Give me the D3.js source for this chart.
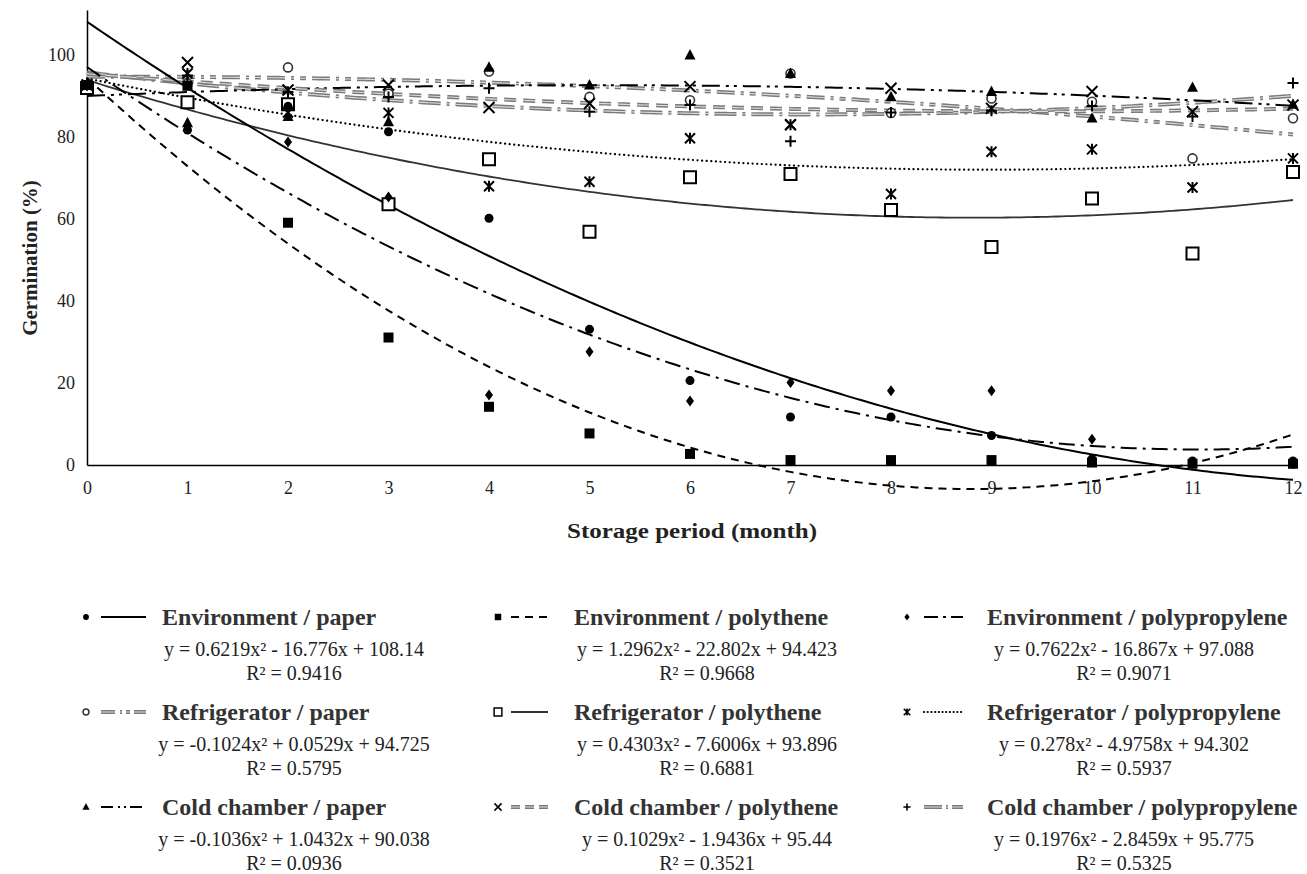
<!DOCTYPE html>
<html><head><meta charset="utf-8">
<script src="https://cdn.jsdelivr.net/npm/d3@7"></script>
<style>body{margin:0;background:#fff} svg{display:block}</style>
</head><body><svg id="c" width="1307" height="874"></svg>
<script>
// ---------- data ----------
const months = [0,1,2,3,4,5,6,7,8,9,10,11,12];
const xTickLabels = [0,1,2,3,4,5,6,7,8,9,10,11,12];
const yTickLabels = [0,20,40,60,80,100];

const envPaper        = [92.7, 81.7, 87.5, 81.3, 60.2, 33.1, 20.6, 11.7, 11.7, 7.2, 1.5, 1.0, 1.0];
const envPolythene    = [92.7, 92.5, 59.1, 31.1, 14.2, 7.7, 2.7, 1.2, 1.2, 1.2, 0.6, 0.3, 0.3];
const envPolyprop     = [92.7, 83.0, 78.8, 65.4, 17.1, 27.6, 15.6, 20.1, 18.1, 18.1, 6.3, 0.3, 0.3];
const refPaper        = [92.7, 93.0, 97.0, 90.6, 96.0, 89.8, 89.0, 95.5, 85.9, 89.4, 88.6, 74.8, 84.6];
const refPolythene    = [92.0, 88.5, 88.0, 63.6, 74.6, 56.9, 70.2, 71.0, 62.2, 53.2, 65.0, 51.6, 71.5];
const refPolyprop     = [92.7, 95.5, 86.0, 85.9, 68.0, 69.1, 79.7, 83.0, 66.1, 76.4, 77.0, 67.7, 74.8];
const coldPaper       = [92.7, 83.5, 85.0, 83.7, 97.0, 92.7, 100.0, 95.5, 89.8, 91.1, 84.6, 92.1, 88.0];
const coldPolythene   = [92.7, 98.2, 91.5, 92.7, 87.2, 88.2, 92.3, 83.0, 91.9, 87.0, 91.1, 86.2, 87.8];
const coldPolyprop    = [92.7, 95.0, 91.0, 89.8, 91.9, 86.2, 87.8, 79.0, 86.0, 86.4, 87.6, 85.0, 93.2];

const seriesNames = ["Environment / paper","Environment / polythene","Environment / polypropylene",
  "Refrigerator / paper","Refrigerator / polythene","Refrigerator / polypropylene",
  "Cold chamber / paper","Cold chamber / polythene","Cold chamber / polypropylene"];
const seriesValues = [envPaper, envPolythene, envPolyprop, refPaper, refPolythene, refPolyprop, coldPaper, coldPolythene, coldPolyprop];

// trendline coefficients (y = a x^2 + b x + c), as printed
const coefA = [0.6219, 1.2962, 0.7622, -0.1024, 0.4303, 0.278, -0.1036, 0.1029, 0.1976];
const coefB = [-16.776, -22.802, -16.867, 0.0529, -7.6006, -4.9758, 1.0432, -1.9436, -2.8459];
const coefC = [108.14, 94.423, 97.088, 94.725, 93.896, 94.302, 90.038, 95.44, 95.775];
const eqTexts = ["y = 0.6219x² - 16.776x + 108.14","y = 1.2962x² - 22.802x + 94.423","y = 0.7622x² - 16.867x + 97.088",
  "y = -0.1024x² + 0.0529x + 94.725","y = 0.4303x² - 7.6006x + 93.896","y = 0.278x² - 4.9758x + 94.302",
  "y = -0.1036x² + 1.0432x + 90.038","y = 0.1029x² - 1.9436x + 95.44","y = 0.1976x² - 2.8459x + 95.775"];
const r2Texts = ["R² = 0.9416","R² = 0.9668","R² = 0.9071","R² = 0.5795","R² = 0.6881","R² = 0.5937","R² = 0.0936","R² = 0.3521","R² = 0.5325"];

// ---------- styles ----------
const markerTypes = ["dot","square","diamond","circle","osquare","asterisk","triangle","times","plus"];
const lineStyles = [
  {color:"#000", w:2,   dash:null, dbl:false},
  {color:"#000", w:2,   dash:"8,6", dbl:false},
  {color:"#000", w:2,   dash:"16,6,3,6", dbl:false},
  {color:"#7a7a7a", w:4, dash:"18,6,3,6,6,6", dbl:true},
  {color:"#333", w:1.8, dash:null, dbl:false},
  {color:"#000", w:2.2, dash:"0.1,4.5", dbl:false, round:true},
  {color:"#000", w:2,   dash:"18,6,3,5,3,6", dbl:false},
  {color:"#7a7a7a", w:4, dash:"12,7", dbl:true},
  {color:"#7a7a7a", w:4, dash:"22,6,3,6", dbl:true}
];

const FONT = "'Liberation Serif','Times New Roman',serif";
const svg = d3.select("#c");
const x = d3.scaleLinear().domain([0,12]).range([87,1293]);
const y = d3.scaleLinear().domain([0,111]).range([465,10]);

// axes
const gx = svg.append("g").attr("transform",`translate(0,${y(0)})`)
  .call(d3.axisBottom(x).tickValues(xTickLabels).tickSize(0).tickPadding(16).tickSizeOuter(0));
const gy = svg.append("g").attr("transform",`translate(${x(0)},0)`)
  .call(d3.axisLeft(y).tickValues(yTickLabels).tickSize(0).tickPadding(12).tickSizeOuter(0));
[gx,gy].forEach(g=>{
  g.select(".domain").attr("stroke","#000").attr("stroke-width",1.5);
  g.selectAll("text").attr("font-family",FONT).attr("font-size",18).attr("fill","#222");
});

svg.append("text").attr("transform",`translate(37,258) rotate(-90)`).attr("text-anchor","middle")
  .attr("font-family",FONT).attr("font-weight","bold").attr("font-size",21).attr("fill","#222")
  .text("Germination (%)");
svg.append("text").attr("x",692).attr("y",538).attr("text-anchor","middle")
  .attr("font-family",FONT).attr("font-weight","bold").attr("font-size",22).attr("fill","#222")
  .attr("textLength",250).attr("lengthAdjust","spacingAndGlyphs")
  .text("Storage period (month)");

// marker path generator
function markerPath(type, s){
  const p = d3.path();
  switch(type){
    case "dot": p.arc(0,0,s*0.5,0,2*Math.PI); break;
    case "circle": p.arc(0,0,s*0.5,0,2*Math.PI); break;
    case "square": p.rect(-s/2,-s/2,s,s); break;
    case "osquare": p.rect(-s/2,-s/2,s,s); break;
    case "diamond": p.moveTo(0,-s*0.55); p.lineTo(s*0.4,0); p.lineTo(0,s*0.55); p.lineTo(-s*0.4,0); p.closePath(); break;
    case "triangle": p.moveTo(0,-s*0.55); p.lineTo(s*0.5,s*0.4); p.lineTo(-s*0.5,s*0.4); p.closePath(); break;
    case "times": p.moveTo(-s/2,-s/2); p.lineTo(s/2,s/2); p.moveTo(s/2,-s/2); p.lineTo(-s/2,s/2); break;
    case "plus": p.moveTo(-s/2,0); p.lineTo(s/2,0); p.moveTo(0,-s/2); p.lineTo(0,s/2); break;
    case "asterisk": p.moveTo(-s/2,-s/2); p.lineTo(s/2,s/2); p.moveTo(s/2,-s/2); p.lineTo(-s/2,s/2); p.moveTo(0,-s*0.55); p.lineTo(0,s*0.55); break;
  }
  return p.toString();
}
function styleMarker(sel, type){
  if(type==="dot"||type==="square"||type==="diamond"||type==="triangle"){
    sel.attr("fill","#000").attr("stroke","none");
  } else if(type==="circle"){
    sel.attr("fill","#fff").attr("stroke","#333").attr("stroke-width",1.6);
  } else if(type==="osquare"){
    sel.attr("fill","#fff").attr("stroke","#000").attr("stroke-width",2);
  } else {
    sel.attr("fill","none").attr("stroke","#000").attr("stroke-width",2);
  }
}
const markerSize = {dot:9, square:10, diamond:10, circle:9, osquare:12, asterisk:10, triangle:11, times:11, plus:11};

function drawLineStyle(g, d, st){
  const base = g.append("path").attr("d",d).attr("fill","none").attr("stroke",st.color)
    .attr("stroke-width",st.w).attr("stroke-linecap", st.round?"round":"butt");
  if(st.dash) base.attr("stroke-dasharray",st.dash);
  if(st.dbl){
    const inner = g.append("path").attr("d",d).attr("fill","none").attr("stroke","#dcdcdc")
      .attr("stroke-width",1.1);
    if(st.dash) inner.attr("stroke-dasharray",st.dash);
  }
}

// trendlines
const lineGen = d3.line().x(d=>x(d[0])).y(d=>y(d[1])).curve(d3.curveLinear);
const trendG = svg.append("g");
const sampleX = d3.range(0, 12.0001, 0.05);
[4,8,3,6,7,5,2,1,0].forEach(i=>{
  const pts = sampleX.map(t=>[t, coefA[i]*t*t + coefB[i]*t + coefC[i]]);
  drawLineStyle(trendG, lineGen(pts), lineStyles[i]);
});

// markers
const markG = svg.append("g");
[4,3,8,7,6,5,2,0,1].forEach(i=>{
  const type = markerTypes[i];
  const sel = markG.selectAll(null).data(months.map((m,k)=>[m, seriesValues[i][k]])).enter()
    .append("path").attr("transform",d=>`translate(${x(d[0])},${y(d[1])})`)
    .attr("d", markerPath(type, markerSize[type]));
  styleMarker(sel, type);
});

// legend
const colMarkerX = [86, 498, 907];
const colLineX = [[101,146],[511,548],[924,963]];
const colTitleX = [162, 574, 987];
const colEqX = [294, 707, 1124];
const rowTitleY = [625, 720, 815];
const rowEqY = [656, 751, 846];
const rowR2Y = [680, 775, 870];
const leg = svg.append("g");
seriesNames.forEach((name,i)=>{
  const c = i%3, r = Math.floor(i/3);
  const ty = rowTitleY[r];
  const type = markerTypes[i];
  const ms = markerSize[type]*0.65;
  const m = leg.append("path").attr("transform",`translate(${colMarkerX[c]},${ty-8})`).attr("d",markerPath(type, ms));
  styleMarker(m, type);
  if(type==="osquare"||type==="circle") m.attr("stroke-width",1.5);
  if(type==="times"||type==="plus"||type==="asterisk") m.attr("stroke-width",1.6);
  const lp = `M${colLineX[c][0]},${ty-8}L${colLineX[c][1]},${ty-8}`;
  const st = Object.assign({}, lineStyles[i]);
  if(st.dash==="16,6,3,6") st.dash="14,5,3,5";
  if(st.dash==="18,6,3,5,3,6") st.dash="12,5,2,4,2,4";
  if(st.dash==="18,6,3,6,6,6") st.dash="14,5,2,4,4,4";
  if(st.dash==="22,6,3,6") st.dash="18,4,2,4";
  if(st.dash==="12,7") st.dash="9,5";
  if(st.round) st.dash="0.1,3.6";
  drawLineStyle(leg, lp, st);
  leg.append("text").attr("x",colTitleX[c]).attr("y",ty).attr("font-family",FONT).attr("font-weight","bold")
    .attr("font-size",24).attr("fill","#333").text(name);
  leg.append("text").attr("x",colEqX[c]).attr("y",rowEqY[r]).attr("text-anchor","middle").attr("font-family",FONT)
    .attr("font-size",20).attr("fill","#222").text(eqTexts[i]);
  leg.append("text").attr("x",colEqX[c]).attr("y",rowR2Y[r]).attr("text-anchor","middle").attr("font-family",FONT)
    .attr("font-size",20).attr("fill","#222").text(r2Texts[i]);
});
</script></body></html>
